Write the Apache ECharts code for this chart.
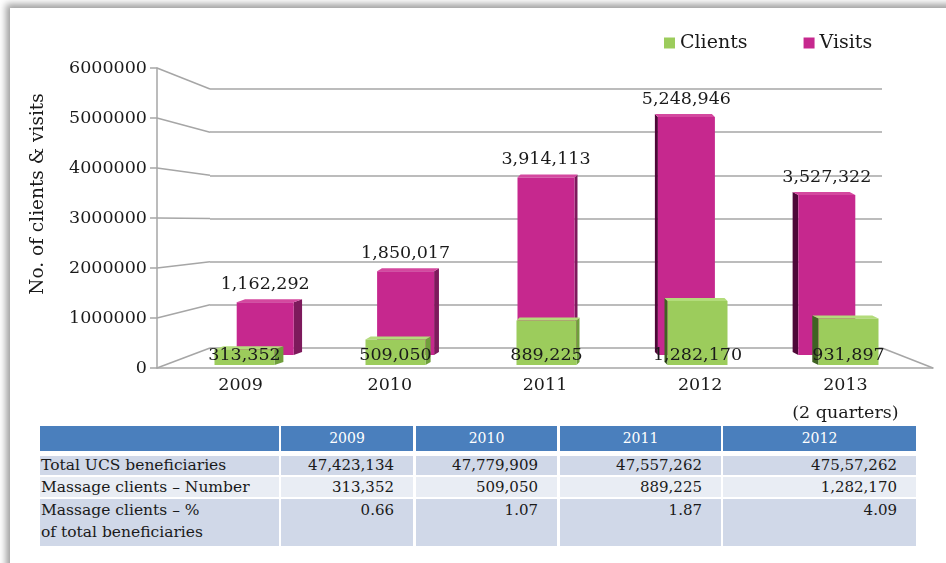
<!DOCTYPE html>
<html>
<head>
    <meta charset="UTF-8"/>
    <title>Massage clients and visits</title>
    <script src="https://cdn.jsdelivr.net/npm/echarts@6/dist/echarts.min.js"></script>
    <style>
        html, body { margin: 0; padding: 0; width: 946px; height: 563px; overflow: hidden; background: #fff; }
        #panel { position: absolute; left: 10px; top: 8px; width: 980px; height: 600px; background: #fff;
                 box-shadow: -4px -4px 7px rgba(0, 0, 0, 0.38); }
        #chart { position: absolute; left: 0; top: 0; width: 946px; height: 563px; }
        #table { position: absolute; left: 0; top: 0; font-family: "DejaVu Serif", serif; color: #1a1a1a; }
        .cell { position: absolute; box-sizing: border-box; font-size: 15px; white-space: pre; }
        .label { font-size: 15.5px; }
        .head { background: #4a7fbd; color: #fff; text-align: center; font-size: 14px; line-height: 25px; }
        .num { text-align: right; padding-right: 19px; }
    </style>
</head>
<body>
<div id="panel"></div>
<div id="chart"></div>
<div id="table"></div>
<script type="text/javascript">
    // chart data
    const years = ['2009', '2010', '2011', '2012', '2013\n(2 quarters)'];
    const clients = [313352, 509050, 889225, 1282170, 931897];
    const visits = [1162292, 1850017, 3914113, 5248946, 3527322];

    // table data
    const tableYears = ['2009', '2010', '2011', '2012'];
    const rowLabels = ['Total UCS beneficiaries', 'Massage clients – Number', 'Massage clients – %\nof total beneficiaries'];
    const beneficiaries = ['47,423,134', '47,779,909', '47,557,262', '475,57,262'];
    const clientNumbers = ['313,352', '509,050', '889,225', '1,282,170'];
    const clientPct = ['0.66', '1.07', '1.87', '4.09'];

    const FONT = '"DejaVu Serif", serif';
    const TEXT = '#1a1a1a';
    const AXIS_GRAY = '#a6a6a6';

    // layout of the fake 3d box
    const L = {
        front: {left: 157, top: 68, width: 776, height: 300},
        back: {left: 210, top: 89, width: 672, height: 259},
        visits: {left: 195, top: 83, width: 702, height: 272},
        clients: {left: 169, top: 65, width: 755, height: 300}
    };

    // front face + side + top of one bar
    function bar3d(colors, ratio, labelAbove) {
        return function (params, api) {
            const i = api.value(0), v = api.value(1);
            const base = api.coord([i, 0]);
            const top = api.coord([i, v]);
            const bw = api.size([1, 0])[0] * ratio;
            const cx = base[0];
            const x0 = cx - bw / 2, x1 = cx + bw / 2;
            let dx = (600 - cx) * 0.025;
            if (Math.abs(dx) < 3) dx = dx < 0 ? -3 : 3;
            const dy = -3;
            const sx = dx > 0 ? x1 : x0;
            const label = Number(v).toLocaleString('en-US');
            return {
                type: 'group',
                children: [
                    {
                        type: 'polygon',
                        shape: {points: [[sx, top[1]], [sx + dx, top[1] + dy], [sx + dx, base[1] + dy], [sx, base[1]]]},
                        style: {fill: dx > 0 ? colors.sideR : colors.sideL}
                    },
                    {
                        type: 'polygon',
                        shape: {points: [[x0, top[1]], [x1, top[1]], [x1 + dx, top[1] + dy], [x0 + dx, top[1] + dy]]},
                        style: {fill: colors.top}
                    },
                    {
                        type: 'rect',
                        shape: {x: x0, y: top[1], width: bw, height: base[1] - top[1]},
                        style: {fill: colors.front}
                    },
                    {
                        type: 'text',
                        style: {
                            text: label,
                            x: cx,
                            y: labelAbove ? top[1] - 18 : base[1] - 10,
                            align: 'center',
                            verticalAlign: 'middle',
                            font: '17.5px ' + FONT,
                            fill: TEXT
                        }
                    }
                ]
            };
        };
    }

    const labelBase = {fontFamily: FONT, fontSize: 17.5, color: TEXT, lineHeight: 28};
    const chart = echarts.init(document.getElementById('chart'));
    const hiddenAxis = {show: false};
    const option = {
        animation: false,
        legend: {
            data: ['Clients', 'Visits'],
            left: 664,
            top: 33,
            padding: 0,
            itemGap: 56,
            itemWidth: 11,
            itemHeight: 11,
            icon: 'rect',
            textStyle: {fontFamily: FONT, fontSize: 19, color: TEXT, lineHeight: 20}
        },
        grid: [L.front, L.back, L.visits, L.clients],
        xAxis: [
            {
                type: 'category', gridIndex: 0, data: years,
                axisLine: {lineStyle: {color: AXIS_GRAY, width: 1.5}},
                axisTick: {length: 5, lineStyle: {color: AXIS_GRAY, width: 1.5}},
                axisLabel: Object.assign({
                    margin: 3,
                    formatter: (v, i) => i === 0 ? '{a|' + v + '}' : i === years.length - 1 ? '{b|' + v + '}' : v,
                    rich: {
                        a: Object.assign({padding: [0, 0, 0, 12]}, labelBase),
                        b: Object.assign({padding: [0, 20, 0, 0]}, labelBase)
                    }
                }, labelBase)
            },
            Object.assign({type: 'category', gridIndex: 1, data: years}, hiddenAxis),
            Object.assign({type: 'category', gridIndex: 2, data: years}, hiddenAxis),
            Object.assign({type: 'category', gridIndex: 3, data: years}, hiddenAxis)
        ],
        yAxis: [
            {
                type: 'value', gridIndex: 0, min: 0, max: 6000000, interval: 1000000,
                axisLine: {show: true, lineStyle: {color: AXIS_GRAY, width: 1.5}},
                axisTick: {show: true, length: 7, lineStyle: {color: AXIS_GRAY, width: 1.5}},
                axisLabel: {fontFamily: FONT, fontSize: 17.5, color: TEXT, margin: 10, formatter: v => String(v)},
                splitLine: {show: false}
            },
            {
                type: 'value', gridIndex: 1, min: 0, max: 6000000, interval: 1000000,
                axisLine: {show: false}, axisTick: {show: false}, axisLabel: {show: false},
                splitLine: {show: true, lineStyle: {color: AXIS_GRAY, width: 1.5}}
            },
            {type: 'value', gridIndex: 2, min: 0, max: 6000000, show: false, splitLine: {show: false}},
            {type: 'value', gridIndex: 3, min: 0, max: 6000000, show: false, splitLine: {show: false}}
        ],
        series: [
            {
                name: 'Visits', type: 'custom', xAxisIndex: 2, yAxisIndex: 2,
                itemStyle: {color: '#c6288e'},
                renderItem: bar3d({front: '#c6288e', sideR: '#7d1a5c', sideL: '#4e0838', top: '#d4489f'}, 57 / 140.4, true),
                data: visits.map((v, i) => [i, v])
            },
            {
                name: 'Clients', type: 'custom', xAxisIndex: 3, yAxisIndex: 3,
                itemStyle: {color: '#9ccc5c'},
                renderItem: bar3d({front: '#9ccc5c', sideR: '#6f9f3b', sideL: '#3f6223', top: '#b3dc7b'}, 60 / 151, false),
                data: clients.map((v, i) => [i, v])
            }
        ]
    };
    chart.setOption(option);

    // diagonal connectors between front axis and back wall, floor edge, axis title
    const yf = v => chart.convertToPixel({yAxisIndex: 0}, v);
    const yb = v => chart.convertToPixel({yAxisIndex: 1}, v);
    const lines = [];
    for (let v = 0; v <= 6000000; v += 1000000) {
        lines.push({
            type: 'line', silent: true,
            shape: {x1: L.front.left, y1: yf(v), x2: L.back.left, y2: yb(v)},
            style: {stroke: AXIS_GRAY, lineWidth: 1.5}
        });
    }
    lines.push({
        type: 'line', silent: true,
        shape: {x1: L.back.left + L.back.width, y1: yb(0), x2: L.front.left + L.front.width, y2: yf(0)},
        style: {stroke: AXIS_GRAY, lineWidth: 1.5}
    });
    lines.push({
        type: 'text', x: 38, y: 194, rotation: Math.PI / 2,
        style: {text: 'No. of clients & visits', align: 'center', verticalAlign: 'middle', font: '18.5px ' + FONT, fill: TEXT}
    });
    chart.setOption({graphic: lines});

    // table below the chart
    const cols = [[40, 279], [281, 413], [416, 557], [560, 721], [723, 916]];
    const rows = [[426, 451], [456, 475], [477, 497], [499, 546]];
    const rowBg = ['#d0d8e8', '#e9edf4', '#d0d8e8'];
    const rowValues = [beneficiaries, clientNumbers, clientPct];
    const table = document.getElementById('table');

    function addCell(col, row, text, cls, bg) {
        const d = document.createElement('div');
        d.className = 'cell ' + cls;
        d.style.left = cols[col][0] + 'px';
        d.style.width = (cols[col][1] - cols[col][0]) + 'px';
        d.style.top = rows[row][0] + 'px';
        d.style.height = (rows[row][1] - rows[row][0]) + 'px';
        if (bg) d.style.background = bg;
        d.textContent = text;
        table.appendChild(d);
        return d;
    }

    addCell(0, 0, '', 'head');
    tableYears.forEach((y, c) => addCell(c + 1, 0, y, 'head'));
    rowLabels.forEach((lab, r) => {
        const h = r === 2 ? 22 : rows[r + 1][1] - rows[r + 1][0];
        const d = addCell(0, r + 1, lab, 'label', rowBg[r]);
        d.style.lineHeight = h + 'px';
        d.style.paddingLeft = '1px';
        rowValues[r].forEach((v, c) => {
            const e = addCell(c + 1, r + 1, v, 'num', rowBg[r]);
            e.style.lineHeight = h + 'px';
        });
    });
</script>
</body>
</html>
